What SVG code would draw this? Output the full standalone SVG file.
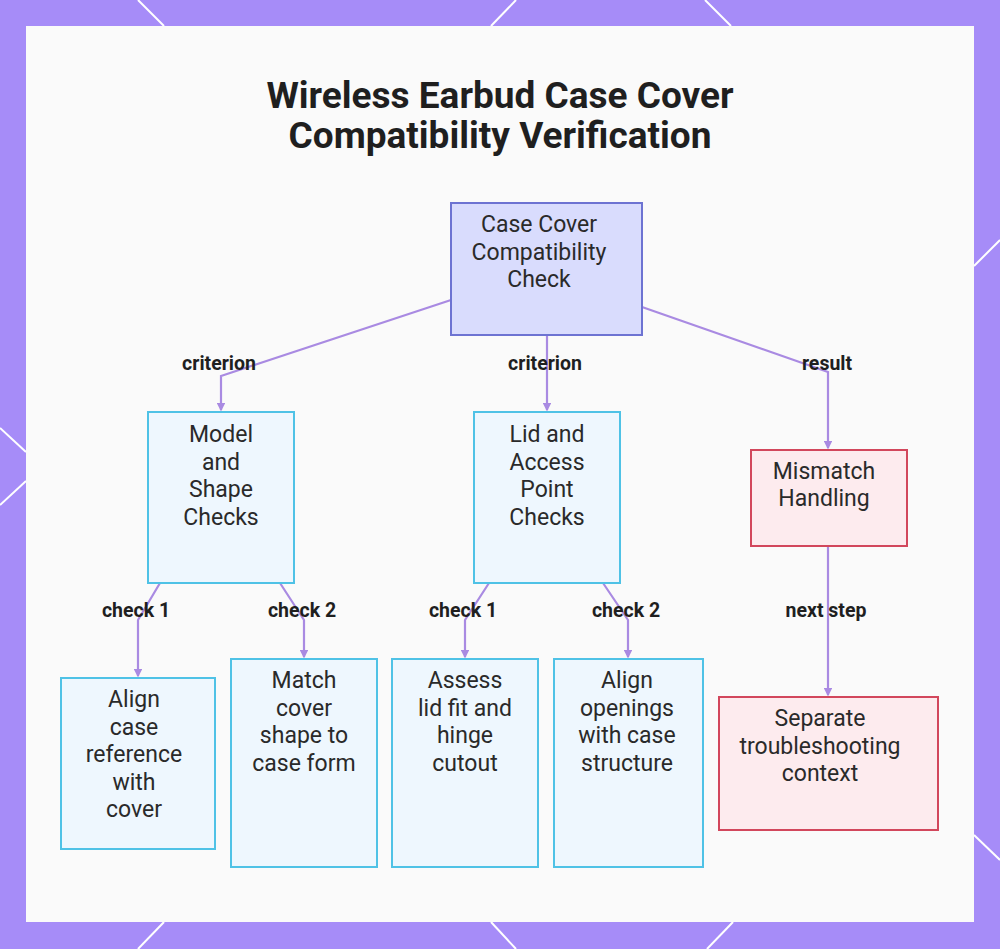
<svg xmlns="http://www.w3.org/2000/svg" width="1000" height="949" viewBox="0 0 1000 949">
<defs>
<style>
.title{font-family:Roboto,"Liberation Sans",sans-serif;font-weight:700;font-size:37px;fill:#1f1f1f;text-anchor:middle}
.nt{font-family:Roboto,"Liberation Sans",sans-serif;font-size:23px;fill:#2a2a2a;text-anchor:middle}
.el{font-family:Roboto,"Liberation Sans",sans-serif;font-weight:700;font-size:19.5px;fill:#1f1f1f;text-anchor:middle}
.edge{fill:none;stroke:#a98ae2;stroke-width:2.2}
.main rect{fill:#d9dcfd;stroke:#6d73d2;stroke-width:2}
.sub rect{fill:#eef7fe;stroke:#4fc2e6;stroke-width:2}
.err rect{fill:#fdebee;stroke:#d2475c;stroke-width:2}
.hex{stroke:#ffffff;stroke-width:2;fill:none}
</style>
<marker id="ah" viewBox="0 0 6 6" refX="5" refY="3" markerWidth="4" markerHeight="4" orient="auto">
<path d="M0,0 L6,3 L0,6 z" fill="#a98ae2"/>
</marker>
</defs>
<rect x="0" y="0" width="1000" height="949" fill="#a68cf8"/>
<g class="hex">
<line x1="138" y1="0" x2="164" y2="26"/>
<line x1="516" y1="0" x2="491" y2="26"/>
<line x1="705" y1="0" x2="731" y2="26"/>
<line x1="1000" y1="240" x2="974" y2="266"/>
<line x1="0" y1="428" x2="26" y2="452"/>
<line x1="26" y1="481" x2="0" y2="505"/>
<line x1="974" y1="835" x2="1000" y2="860"/>
<line x1="164" y1="922" x2="138" y2="949"/>
<line x1="491" y1="922" x2="516" y2="949"/>
<line x1="733" y1="922" x2="707" y2="949"/>
</g>
<rect x="26" y="26" width="948" height="896" fill="#fafafa"/>
<text class="title" x="500" y="108">Wireless Earbud Case Cover</text>
<text class="title" x="500" y="148">Compatibility Verification</text>
<g id="connectors">
<path class="edge" d="M451,300 L221,376 L221,410" marker-end="url(#ah)"/>
<path class="edge" d="M547,335 L547,410" marker-end="url(#ah)"/>
<path class="edge" d="M642,307 L828,372 L828,448" marker-end="url(#ah)"/>
<path class="edge" d="M160,583 L138,620 L138,676" marker-end="url(#ah)"/>
<path class="edge" d="M280,583 L304,620 L304,657" marker-end="url(#ah)"/>
<path class="edge" d="M489,583 L465,620 L465,657" marker-end="url(#ah)"/>
<path class="edge" d="M603,583 L628,620 L628,657" marker-end="url(#ah)"/>
<path class="edge" d="M828,546 L828,695" marker-end="url(#ah)"/>
<text class="el" x="219" y="370">criterion</text>
<text class="el" x="545" y="370">criterion</text>
<text class="el" x="827" y="370">result</text>
<text class="el" x="136" y="617">check 1</text>
<text class="el" x="302" y="617">check 2</text>
<text class="el" x="463" y="617">check 1</text>
<text class="el" x="626" y="617">check 2</text>
<text class="el" x="826" y="617">next step</text>
</g>
<g id="n-check" class="main">
<rect x="451" y="203" width="191" height="132"/>
<text class="nt" x="539" y="232">Case Cover</text>
<text class="nt" x="539" y="260">Compatibility</text>
<text class="nt" x="539" y="287">Check</text>
</g>
<g id="n-model" class="sub">
<rect x="148" y="412" width="146" height="171"/>
<text class="nt" x="221" y="442">Model</text>
<text class="nt" x="221" y="470">and</text>
<text class="nt" x="221" y="497">Shape</text>
<text class="nt" x="221" y="525">Checks</text>
</g>
<g id="n-lid" class="sub">
<rect x="474" y="412" width="146" height="171"/>
<text class="nt" x="547" y="442">Lid and</text>
<text class="nt" x="547" y="470">Access</text>
<text class="nt" x="547" y="497">Point</text>
<text class="nt" x="547" y="525">Checks</text>
</g>
<g id="n-mismatch" class="err">
<rect x="751" y="450" width="156" height="96"/>
<text class="nt" x="824" y="479">Mismatch</text>
<text class="nt" x="824" y="506">Handling</text>
</g>
<g id="n-align-case" class="sub">
<rect x="61" y="678" width="154" height="171"/>
<text class="nt" x="134" y="707">Align</text>
<text class="nt" x="134" y="735">case</text>
<text class="nt" x="134" y="762">reference</text>
<text class="nt" x="134" y="790">with</text>
<text class="nt" x="134" y="817">cover</text>
</g>
<g id="n-match" class="sub">
<rect x="231" y="659" width="146" height="208"/>
<text class="nt" x="304" y="688">Match</text>
<text class="nt" x="304" y="716">cover</text>
<text class="nt" x="304" y="743">shape to</text>
<text class="nt" x="304" y="771">case form</text>
</g>
<g id="n-assess" class="sub">
<rect x="392" y="659" width="146" height="208"/>
<text class="nt" x="465" y="688">Assess</text>
<text class="nt" x="465" y="716">lid fit and</text>
<text class="nt" x="465" y="743">hinge</text>
<text class="nt" x="465" y="771">cutout</text>
</g>
<g id="n-openings" class="sub">
<rect x="554" y="659" width="149" height="208"/>
<text class="nt" x="627" y="688">Align</text>
<text class="nt" x="627" y="716">openings</text>
<text class="nt" x="627" y="743">with case</text>
<text class="nt" x="627" y="771">structure</text>
</g>
<g id="n-separate" class="err">
<rect x="719" y="697" width="219" height="133"/>
<text class="nt" x="820" y="726">Separate</text>
<text class="nt" x="820" y="754">troubleshooting</text>
<text class="nt" x="820" y="781">context</text>
</g>
</svg>
